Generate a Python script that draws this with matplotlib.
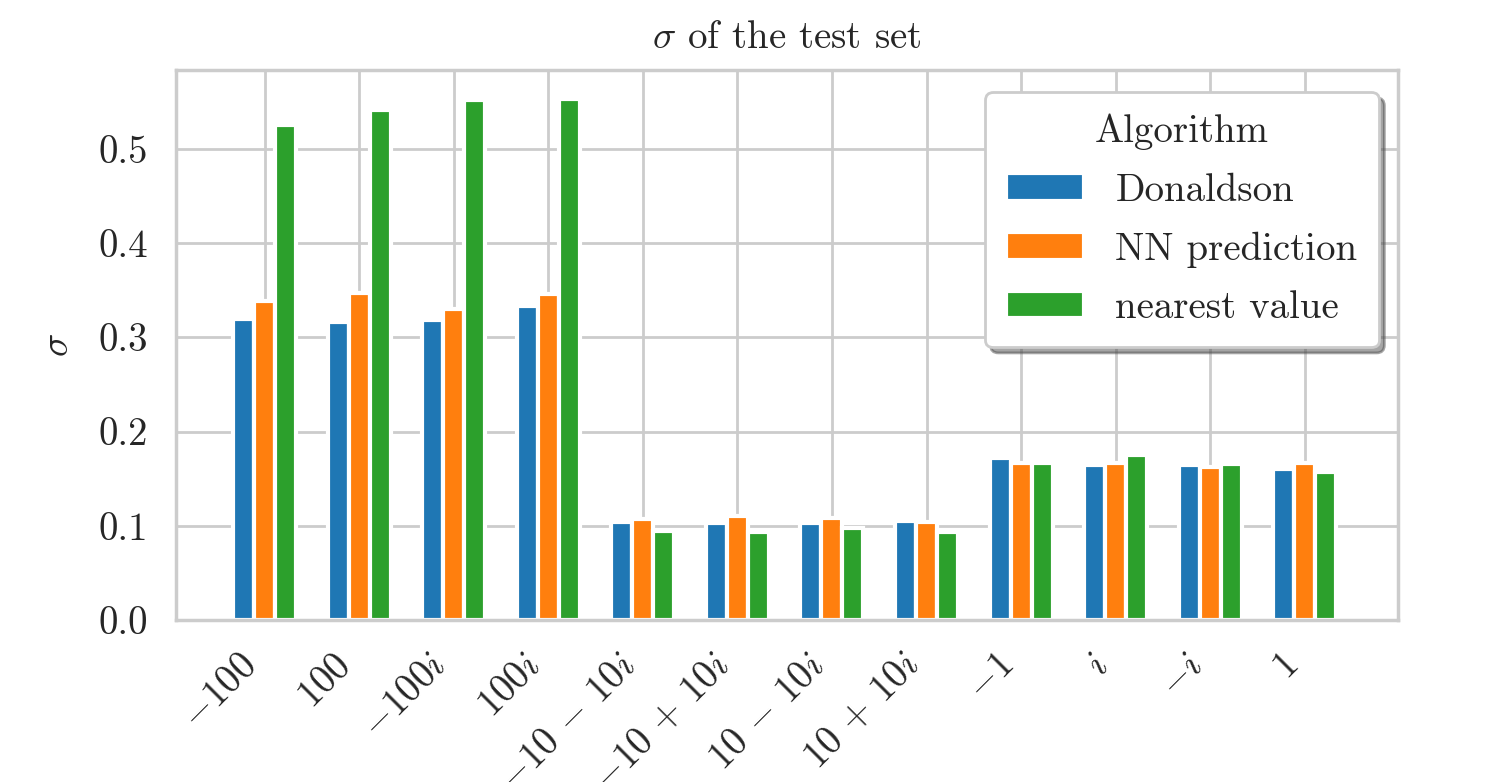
import numpy as np
import matplotlib
matplotlib.use('Agg')
import matplotlib.pyplot as plt
import seaborn as sns

# sigma per test point
points = [r'$-100$', r'$100$', r'$-100i$', r'$100i$',
          r'$-10\,-\,10i$', r'$-10\,+\,10i$', r'$10\,-\,10i$', r'$10\,+\,10i$',
          r'$-1$', r'$i$', r'$-i$', r'$1$']
donaldson = [0.319, 0.316, 0.318, 0.333, 0.104, 0.103, 0.103, 0.105, 0.172, 0.164, 0.165, 0.160]
nn_pred = [0.338, 0.347, 0.330, 0.346, 0.107, 0.110, 0.108, 0.104, 0.167, 0.167, 0.162, 0.167]
nearest = [0.525, 0.541, 0.552, 0.553, 0.095, 0.093, 0.098, 0.093, 0.167, 0.175, 0.166, 0.157]
labels = ['Donaldson', 'NN prediction', 'nearest value']

sns.set_theme(style='whitegrid')
plt.rcParams['font.family'] = 'serif'
plt.rcParams['font.serif'] = ['cmr10']
plt.rcParams['mathtext.fontset'] = 'cm'
plt.rcParams['axes.formatter.use_mathtext'] = True
plt.rcParams['axes.unicode_minus'] = False

fs = 14
fig = plt.figure(figsize=(7.51, 3.91), dpi=200)
ax = fig.add_axes([0.117, 0.207, 0.814, 0.703])

x = np.arange(len(points))
w = 0.222
colors = ['#1f77b4', '#ff7f0e', '#2ca02c']
for k, (vals, lab) in enumerate(zip([donaldson, nn_pred, nearest], labels)):
    ax.bar(x + (k - 1) * w, vals, width=w, color=colors[k], label=lab,
           edgecolor='white', linewidth=1.5, zorder=2)

ax.set_xticks(x)
ax.set_xticklabels(points, rotation=45, ha='right', fontsize=fs)
ax.set_xlim(-0.94, 11.99)
ax.set_ylim(0, 0.583)
ax.set_yticks([0.0, 0.1, 0.2, 0.3, 0.4, 0.5])
ax.set_yticklabels(['0.0', '0.1', '0.2', '0.3', '0.4', '0.5'], fontsize=fs)
ax.tick_params(axis='both', pad=4)
ax.set_ylabel(r'$\sigma$', fontsize=fs, labelpad=8)
ax.set_title(r'$\sigma$ of the test set', fontsize=fs, pad=8)
ax.grid(True, color='.8', zorder=0)
ax.set_axisbelow(True)

leg = ax.legend(title='Algorithm', loc='upper right', fontsize=fs, title_fontsize=fs,
                shadow=True, fancybox=True, framealpha=1, borderaxespad=0,
                labelspacing=0.58, borderpad=0.55,
                bbox_to_anchor=(0.984, 0.96))
leg.get_frame().set_edgecolor('.8')

fig.savefig('out.png', dpi=200)
